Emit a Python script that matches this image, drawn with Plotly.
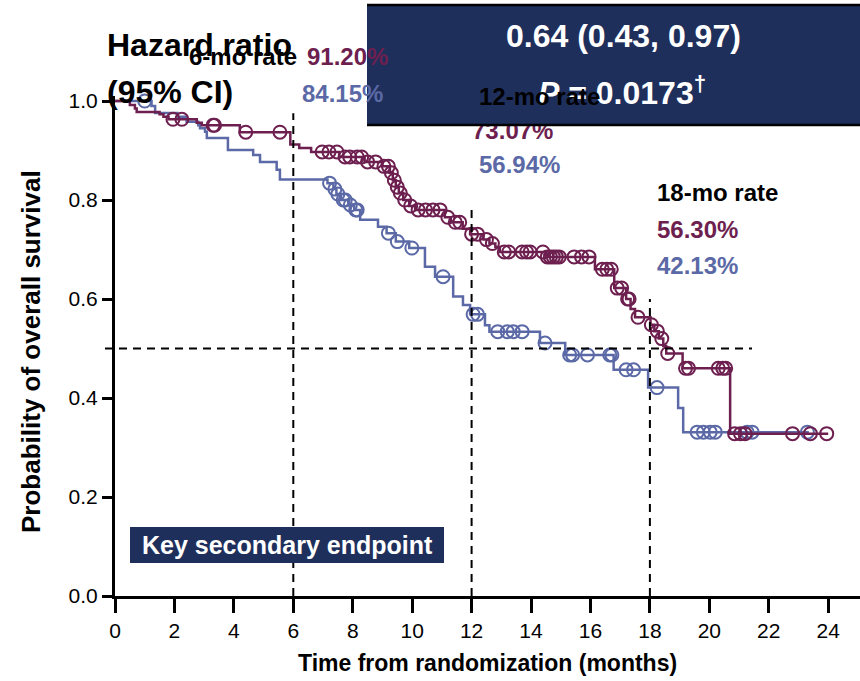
import numpy as np
import plotly.graph_objects as go

# ---------------- data ----------------
# Treatment arm (maroon) Kaplan-Meier steps
treat_t = [0, 0.5, 0.67, 0.73, 1.5, 1.63, 1.8, 2.75, 2.92, 4.2, 5.9, 6.2, 6.6, 7.55, 8.4,
           9.0, 9.25, 9.35, 9.45, 9.55, 9.7, 9.9, 10.1, 11.1, 11.3, 11.7, 11.95, 12.4, 12.6,
           12.8, 12.95, 14.5, 16.15, 16.8, 17.2, 17.35, 17.5, 18.02, 18.15, 18.3, 18.45,
           18.55, 19.1, 20.7]
treat_s = [1.0, 0.992, 0.985, 0.978, 0.973, 0.968, 0.963, 0.956, 0.951, 0.937, 0.912, 0.905,
           0.897, 0.887, 0.877, 0.868, 0.855, 0.84, 0.826, 0.814, 0.80, 0.788, 0.78, 0.765,
           0.755, 0.742, 0.731, 0.72, 0.712, 0.705, 0.695, 0.685, 0.66, 0.622, 0.60, 0.58,
           0.563, 0.548, 0.535, 0.52, 0.505, 0.49, 0.46, 0.328]
treat_end = 24.0
treat_c = [1.95, 2.25, 3.3, 3.35, 4.4, 5.55, 6.97, 7.2, 7.47, 7.74, 7.9, 8.15, 8.3, 8.5, 8.77,
           9.05, 9.2, 9.3, 9.4, 9.5, 9.6, 9.75, 9.95, 10.2, 10.45, 10.7, 10.94, 11.2, 11.45,
           11.6, 12.0, 12.2, 12.5, 12.7, 13.1, 13.25, 13.7, 13.85, 13.97, 14.4, 14.55, 14.65,
           14.75, 14.85, 14.95, 15.45, 15.7, 15.95, 16.4, 16.55, 16.7, 16.9, 17.05, 17.25,
           17.3, 17.6, 18.05, 18.25, 18.4, 18.6, 19.2, 19.3, 20.3, 20.45, 20.55, 20.85, 21.05,
           21.2, 22.8, 23.4, 23.95]

# Control arm (blue) Kaplan-Meier steps
ctrl_t = [0, 1.23, 1.35, 2.1, 2.41, 2.8, 2.86, 3.03, 3.09, 3.8, 4.65, 4.88, 5.44, 5.55, 7.15,
          7.35, 7.45, 7.6, 7.85, 8.05, 8.25, 8.85, 9.14, 9.45, 9.9, 10.43, 10.77, 11.38,
          11.71, 11.95, 12.45, 12.6, 14.3, 15.15, 16.78, 17.94, 18.95, 19.12]
ctrl_s = [1.0, 0.99, 0.976, 0.968, 0.958, 0.951, 0.945, 0.938, 0.925, 0.901, 0.891, 0.877,
          0.861, 0.8415, 0.834, 0.822, 0.812, 0.80, 0.79, 0.78, 0.76, 0.746, 0.733, 0.716,
          0.703, 0.665, 0.645, 0.605, 0.588, 0.569, 0.547, 0.534, 0.511, 0.487, 0.457, 0.421,
          0.38, 0.331]
ctrl_end = 23.35
ctrl_c = [1.0, 7.22, 7.4, 7.5, 7.68, 7.75, 7.92, 8.1, 8.15, 9.2, 9.5, 9.99, 11.04, 12.05, 12.2,
          12.88, 13.2, 13.4, 13.7, 14.47, 15.3, 15.4, 15.9, 16.65, 16.72, 17.2, 17.45, 18.24,
          19.59, 19.8, 20.03, 20.2, 21.27, 21.44, 23.3]

landmarks = [6, 12, 18]
landmark_tops = [0.975, 0.785, 0.6]
rates_treat = ["91.20%", "73.07%", "56.30%"]
rates_ctrl = ["84.15%", "56.94%", "42.13%"]
rate_labels = ["6-mo rate", "12-mo rate", "18-mo rate"]
x_ticks = list(range(0, 25, 2))
y_ticks = [0.0, 0.2, 0.4, 0.6, 0.8, 1.0]

MAROON = "#6D1F4F"
BLUE = "#5B69A6"
NAVY = "#1F2F5C"
NARROW = "Liberation Sans Narrow, Arial Narrow, Liberation Sans, Arial, sans-serif"
SANS = "Liberation Sans, Arial, sans-serif"

# ---------------- geometry helpers ----------------
W, H = 860, 681
ML, MR, MT, MB = 115, 0, 96, 85
XMAX = 25.07
YMAX = 1.0101
PW, PH = W - ML - MR, H - MT - MB


def px(x):
    return (x - ML) / PW


def py(y):
    return (H - MB - y) / PH


def step_at(t, s, c):
    idx = np.searchsorted(np.array(t), np.array(c), side="right") - 1
    return list(np.array(s)[idx])


fig = go.Figure()

# 73.07% drawn as trace text so the box covers its top
fig.add_trace(go.Scatter(x=[(475 - ML) / PW * XMAX - 0.1], y=[(H - MB - 133) / PH * YMAX],
                         mode="text", text=["<b>%s</b>" % rates_treat[1]],
                         textposition="middle right", textfont=dict(size=24, color=MAROON, family=SANS),
                         cliponaxis=False, showlegend=False, hoverinfo="skip"))

for t, s, end, c, col in [(ctrl_t, ctrl_s, ctrl_end, ctrl_c, BLUE),
                          (treat_t, treat_s, treat_end, treat_c, MAROON)]:
    fig.add_trace(go.Scatter(x=t + [end], y=s + [s[-1]], mode="lines", line_shape="hv",
                             line=dict(color=col, width=2.5), showlegend=False, hoverinfo="skip",
                             cliponaxis=False))
    fig.add_trace(go.Scatter(x=c, y=step_at(t, s, c), mode="markers",
                             marker=dict(symbol="circle-open", size=13, color=col, line=dict(width=2, color=col)),
                             showlegend=False, hoverinfo="skip", cliponaxis=False))

shapes = []
for lx, top in zip(landmarks, landmark_tops):
    shapes.append(dict(type="line", xref="x", yref="y", x0=lx, x1=lx, y0=0, y1=top,
                       line=dict(color="black", width=2, dash="8px,6px"), layer="above"))
shapes.append(dict(type="line", xref="paper", yref="paper", x0=px(105), x1=px(752),
                   y0=0.5 / YMAX, y1=0.5 / YMAX, line=dict(color="black", width=2, dash="8px,6px")))
# HR box
shapes.append(dict(type="rect", xref="paper", yref="paper", x0=px(367), x1=1.0, y0=py(126), y1=py(5),
                   fillcolor=NAVY, line=dict(width=0), layer="above"))
for yy in (5, 125):
    shapes.append(dict(type="line", xref="paper", yref="paper", x0=px(367), x1=1.0, y0=py(yy), y1=py(yy),
                       line=dict(color="black", width=2.5), layer="above"))
# Key secondary endpoint box
shapes.append(dict(type="rect", xref="paper", yref="paper", x0=px(130), x1=px(444), y0=py(563), y1=py(527),
                   fillcolor=NAVY, line=dict(width=0), layer="above"))

ann = []


def add_text(text, x, y, size, color, xanchor="left", family=SANS):
    ann.append(dict(text=text, xref="paper", yref="paper", x=px(x), y=py(y), xanchor=xanchor,
                    yanchor="middle", showarrow=False, font=dict(size=size, color=color, family=family)))


add_text("<b>Hazard ratio</b>", 105, 45, 32, "black")
add_text("<b>(95% CI)</b>", 105, 92, 32, "black")
add_text("<b>0.64 (0.43, 0.97)</b>", 623, 36, 32, "white", xanchor="center")
add_text("<b><i>P</i> = 0.0173<sup>†</sup></b>", 622, 91, 32, "white", xanchor="center")
label_pos = [(187, 57), (477, 96), (655, 193)]
treat_pos = [(305, 57), None, (655, 229)]
ctrl_pos = [(300, 93), (477, 164), (655, 265)]
for i in range(3):
    add_text("<b>%s</b>" % rate_labels[i], label_pos[i][0], label_pos[i][1], 24, "black")
    if treat_pos[i] is not None:
        add_text("<b>%s</b>" % rates_treat[i], treat_pos[i][0], treat_pos[i][1], 24, MAROON)
    add_text("<b>%s</b>" % rates_ctrl[i], ctrl_pos[i][0], ctrl_pos[i][1], 24, BLUE)

add_text("<b>Key secondary endpoint</b>", 287, 545, 25, "white", xanchor="center")
add_text("<b>Time from randomization (months)</b>", 487, 663, 23, "black", xanchor="center")
ann.append(dict(text="<b>Probability of overall survival</b>", xref="paper", yref="paper", x=px(31),
                y=py(352), xanchor="center", yanchor="middle", textangle=-90, showarrow=False,
                font=dict(size=26, color="black", family=SANS)))

fig.update_layout(
    width=W, height=H, margin=dict(l=ML, r=MR, t=MT, b=MB),
    plot_bgcolor="white", paper_bgcolor="white", showlegend=False,
    shapes=shapes, annotations=ann,
    xaxis=dict(range=[0, XMAX], tickvals=x_ticks, ticks="outside", ticklen=14, tickwidth=3,
               tickcolor="black", showline=True, linewidth=3, linecolor="black", showgrid=False,
               zeroline=False, tickfont=dict(size=21, color="black", family=NARROW)),
    yaxis=dict(range=[0, YMAX], tickvals=y_ticks, tickformat=".1f", ticks="outside", ticklen=10,
               tickwidth=3, tickcolor="black", showline=True, linewidth=3, linecolor="black",
               showgrid=False, zeroline=False, tickfont=dict(size=21, color="black", family=NARROW)),
)

fig.write_html("out.html")
